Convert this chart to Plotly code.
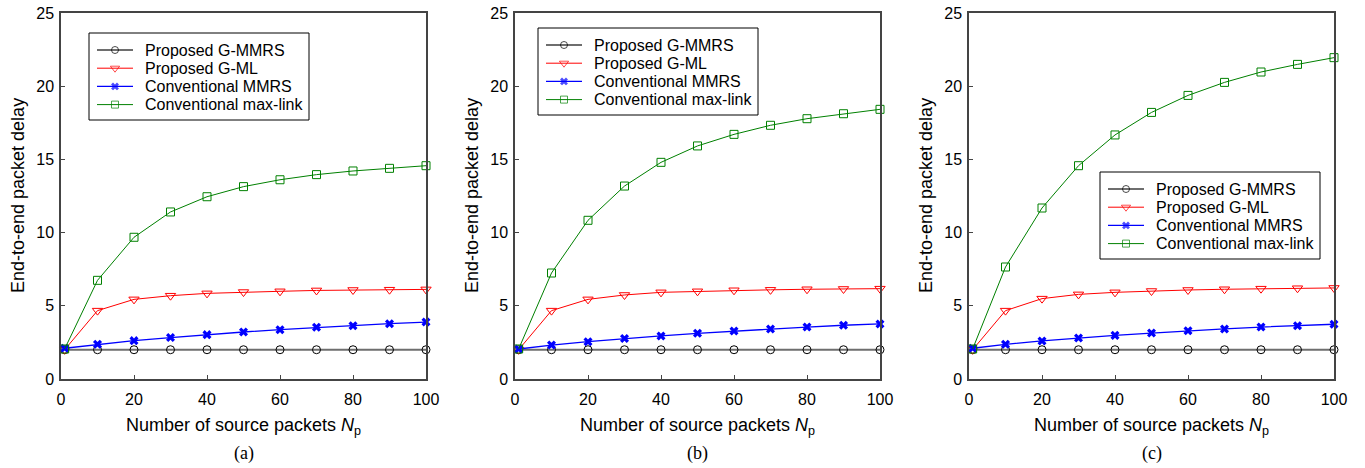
import plotly.graph_objects as go

# Number of source packets
n_packets = [1, 10, 20, 30, 40, 50, 60, 70, 80, 90, 100]

# End-to-end packet delay, one list per scheme and scenario
g_mmrs_a = [2.0, 2.0, 2.0, 2.0, 2.0, 2.0, 2.0, 2.0, 2.0, 2.0, 2.0]
g_ml_a = [2.0, 4.67, 5.44, 5.69, 5.85, 5.94, 5.99, 6.05, 6.08, 6.1, 6.12]
mmrs_a = [2.1, 2.37, 2.62, 2.83, 3.03, 3.21, 3.37, 3.53, 3.64, 3.78, 3.89]
maxlink_a = [2.05, 6.74, 9.68, 11.41, 12.45, 13.14, 13.61, 13.96, 14.21, 14.39, 14.57]

g_mmrs_b = [2.0, 2.0, 2.0, 2.0, 2.0, 2.0, 2.0, 2.0, 2.0, 2.0, 2.0]
g_ml_b = [2.0, 4.67, 5.44, 5.74, 5.92, 5.99, 6.06, 6.09, 6.13, 6.15, 6.17]
mmrs_b = [2.05, 2.32, 2.55, 2.76, 2.94, 3.12, 3.28, 3.42, 3.55, 3.67, 3.76]
maxlink_b = [2.05, 7.24, 10.84, 13.18, 14.8, 15.92, 16.71, 17.33, 17.78, 18.12, 18.42]

g_mmrs_c = [2.0, 2.0, 2.0, 2.0, 2.0, 2.0, 2.0, 2.0, 2.0, 2.0, 2.0]
g_ml_c = [2.0, 4.67, 5.49, 5.78, 5.92, 6.01, 6.08, 6.13, 6.17, 6.2, 6.22]
mmrs_c = [2.1, 2.37, 2.6, 2.8, 2.98, 3.14, 3.3, 3.42, 3.55, 3.64, 3.74]
maxlink_c = [2.05, 7.65, 11.68, 14.57, 16.67, 18.21, 19.37, 20.26, 20.97, 21.49, 21.95]

series_names = ["Proposed G-MMRS", "Proposed G-ML", "Conventional MMRS", "Conventional max-link"]
panel_labels = ["(a)", "(b)", "(c)"]
x_ticks = [0, 20, 40, 60, 80, 100]
y_ticks = [0, 5, 10, 15, 20, 25]

panels = [
    [g_mmrs_a, g_ml_a, mmrs_a, maxlink_a],
    [g_mmrs_b, g_ml_b, mmrs_b, maxlink_b],
    [g_mmrs_c, g_ml_c, mmrs_c, maxlink_c],
]

W, H = 1365, 468
# plot-area pixel boxes (left, right) and common top/bottom
x_boxes = [(61, 426), (515, 880), (969, 1334)]
top_px, bottom_px = 13, 379
# legend boxes: left, top, width, height (pixels)
legend_boxes = [(89, 33, 220, 87), (538, 28, 220, 87), (1100, 172, 220, 87)]
ROW0, ROW_STEP = 17, 18.2
SAMPLE_X0, SAMPLE_X1, TEXT_X = 8, 44, 54

styles = [
    dict(line=dict(color="#6e6e6e", width=2),
         marker=dict(symbol="circle-open", size=8, color="#000000", line=dict(width=1))),
    dict(line=dict(color="#ff0000", width=1),
         marker=dict(symbol="triangle-down-open", size=9, color="#ff0000", line=dict(width=1))),
    dict(line=dict(color="#0000ff", width=1.3),
         marker=dict(symbol="x", size=8, color="#0000ff", line=dict(width=0))),
    dict(line=dict(color="#008000", width=1),
         marker=dict(symbol="square-open", size=8, color="#008000", line=dict(width=1))),
]
legend_marker_sizes = [7, 8, 7, 7]

FONT = "Arial"
SERIF = "Liberation Serif"

fig = go.Figure()
layout = dict(width=W, height=H, margin=dict(l=0, r=0, t=0, b=0, autoexpand=False),
              template="none", showlegend=False,
              paper_bgcolor="white", plot_bgcolor="rgba(0,0,0,0)",
              font=dict(family=FONT, size=16, color="#000000"),
              annotations=[], shapes=[])

for i, series in enumerate(panels):
    k = "" if i == 0 else str(i + 1)
    for name, vals, st in zip(series_names, series, styles):
        fig.add_trace(go.Scatter(
            x=n_packets, y=vals, name=name, mode="lines+markers",
            line=st["line"], marker=st["marker"],
            xaxis=f"x{k}", yaxis=f"y{k}", cliponaxis=False,
        ))
    xl, xr = x_boxes[i]
    axis_common = dict(
        ticks="inside", ticklen=4, tickcolor="#444444", tickwidth=1,
        showline=True, mirror=True, linecolor="#444444", linewidth=1.5,
        showgrid=False, zeroline=False, automargin=False,
        tickfont=dict(family=FONT, size=16, color="#000000"),
    )
    layout[f"xaxis{k}"] = dict(domain=[xl / W, xr / W], anchor=f"y{k}", range=[0, 100],
                               tickvals=x_ticks, ticklabelstandoff=5, **axis_common)
    layout[f"yaxis{k}"] = dict(domain=[1 - bottom_px / H, 1 - top_px / H], anchor=f"x{k}",
                               range=[0, 25], tickvals=y_ticks, ticklabelstandoff=2,
                               **axis_common)
    cx = (xl + xr) / 2
    layout["annotations"] += [
        dict(text="Number of source packets <i>N</i><sub>p</sub>", x=cx / W, y=1 - 426 / H,
             xref="paper", yref="paper", showarrow=False, xanchor="center", yanchor="middle",
             font=dict(family=FONT, size=18)),
        dict(text=panel_labels[i], x=cx / W, y=1 - 453 / H,
             xref="paper", yref="paper", showarrow=False, xanchor="center", yanchor="middle",
             font=dict(family=SERIF, size=18)),
        dict(text="End-to-end packet delay", x=(xl - 43) / W, y=1 - 196 / H,
             xref="paper", yref="paper", showarrow=False, xanchor="center", yanchor="middle",
             textangle=-90, font=dict(family=FONT, size=18)),
    ]

# Legend boxes, drawn on a pixel-space overlay axis
layout["xaxis4"] = dict(domain=[0, 1], range=[0, W], visible=False, fixedrange=True,
                        anchor="y4", automargin=False)
layout["yaxis4"] = dict(domain=[0, 1], range=[H, 0], visible=False, fixedrange=True,
                        anchor="x4", automargin=False)
for (bx, by, bw, bh) in legend_boxes:
    layout["shapes"].append(dict(type="rect", xref="x4", yref="y4",
                                 x0=bx, x1=bx + bw, y0=by, y1=by + bh,
                                 line=dict(color="#000000", width=1),
                                 fillcolor="rgba(0,0,0,0)", layer="above"))
    for j, (name, st) in enumerate(zip(series_names, styles)):
        ry = by + ROW0 + j * ROW_STEP
        x0, x1 = bx + SAMPLE_X0, bx + SAMPLE_X1
        mk = dict(st["marker"])
        mk["size"] = [0, legend_marker_sizes[j], 0]
        fig.add_trace(go.Scatter(
            x=[x0, (x0 + x1) / 2, x1], y=[ry, ry, ry], mode="lines+markers",
            line=st["line"], marker=mk, xaxis="x4", yaxis="y4",
            hoverinfo="skip", showlegend=False,
        ))
        layout["annotations"].append(dict(
            text=name, x=bx + TEXT_X, y=ry, xref="x4", yref="y4", showarrow=False,
            xanchor="left", yanchor="middle", font=dict(family=FONT, size=16)))

fig.update_layout(**layout)
fig.write_html("out.html")
